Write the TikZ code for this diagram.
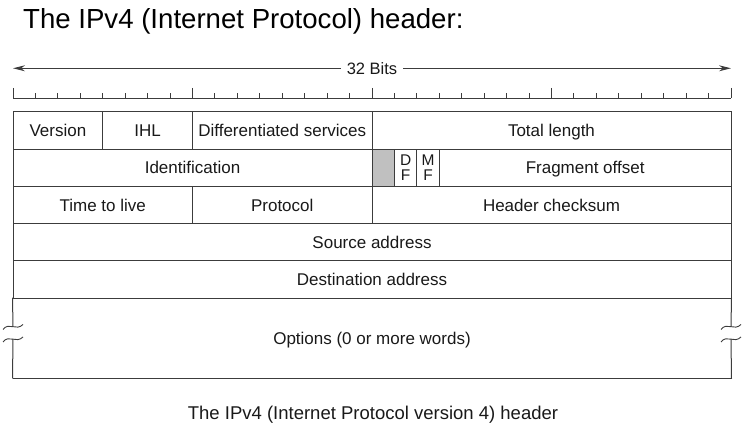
\documentclass[tikz,border=0pt]{standalone}
\usepackage{fontspec}
\setmainfont{Liberation Sans}
\usetikzlibrary{arrows.meta}
\definecolor{ln}{RGB}{60,60,60}
\definecolor{shade}{RGB}{192,192,192}
\definecolor{txt}{RGB}{25,25,25}
\newcommand{\fld}[6]{\node[field,minimum width={(#3-#2)*1pt},minimum height={(#5-#4)*1pt}] (#1) at ({(#2+#3)/2},{(#4+#5)/2}) {#6};}
\begin{document}
\begin{tikzpicture}[x=1pt,y=-1pt,
  box/.style={draw=ln, line width=1pt, inner sep=0pt, text=txt},
  field/.style={box, font=\fontsize{17}{19}\selectfont, text height=12pt, text depth=0pt},
  rule/.style={draw=ln, line width=1pt},
  flagtxt/.style={font=\fontsize{15.5}{14.5}\selectfont, align=center},
  squig/.style={draw=ln, line width=0.9pt}]
\useasboundingbox (0,0) rectangle (745,430);
% title
\node[anchor=base west, inner sep=0pt, text=black, font=\fontsize{27.6}{30}\selectfont] (title) at (23,28.5) {The IPv4 (Internet Protocol) header:};
% 32 bits arrow
\coordinate (al) at (13,68.3);
\coordinate (ar) at (731,68.3);
\draw[rule, line width=0.9pt, {Stealth[length=12pt,width=6pt]}-{Stealth[length=12pt,width=6pt]}] (al) -- (ar);
\node[fill=white, inner xsep=6pt, inner ysep=1pt, text=txt, font=\fontsize{16.5}{18}\selectfont] (bits) at (372,68.3) {32 Bits};
% ruler
\coordinate (rl) at (13,98.5);
\coordinate (rr) at (731,98.5);
\draw[rule] (rl) -- (rr);
\foreach \i in {0,...,32}{
  \pgfmathsetmacro{\xx}{13+\i*22.4375}
  \pgfmathtruncatemacro{\m}{mod(\i,8)}
  \ifnum\m=0
    \draw[rule] (\xx,88) -- (\xx,98.5);
  \else
    \draw[rule] (\xx,93.5) -- (\xx,98.5);
  \fi
}
% row 1
\fld{ver}{13}{102.75}{112}{149.25}{Version}
\fld{ihl}{102.75}{192.5}{112}{149.25}{IHL}
\fld{ds}{192.5}{372}{112}{149.25}{Differentiated services}
\fld{tl}{372}{731}{112}{149.25}{Total length}
% row 2
\fld{id}{13}{372}{149.25}{186.5}{Identification}
\node[box, fill=shade, minimum width=22.44pt, minimum height=37.25pt] (rsv) at (383.22,167.875) {};
\node[box, minimum width=22.44pt, minimum height=37.25pt, flagtxt] (df) at (405.66,167.875) {D\\F};
\node[box, minimum width=22.44pt, minimum height=37.25pt, flagtxt] (mf) at (428.09,167.875) {M\\F};
\fld{fo}{439.31}{731}{149.25}{186.5}{Fragment offset}
% row 3
\fld{ttl}{13}{192.5}{186.5}{223.75}{Time to live}
\fld{proto}{192.5}{372}{186.5}{223.75}{Protocol}
\fld{cks}{372}{731}{186.5}{223.75}{Header checksum}
% row 4,5
\fld{src}{13}{731}{223.75}{261}{Source address}
\fld{dst}{13}{731}{261}{298.25}{Destination address}
% options
\node[field, draw=none, minimum width=718pt, minimum height=79.75pt] (opt) at (372,338.125) {Options (0 or more words)};
\draw[rule] (opt.south west) -- (opt.south east);
\coordinate (lq1) at (13,326.5);
\coordinate (lq2) at (13,339);
\coordinate (rq1) at (731,326.5);
\coordinate (rq2) at (731,339);
\draw[rule] (opt.north west) -- (lq1);
\draw[rule] (lq2) -- (opt.south west);
\draw[rule] (opt.north east) -- (rq1);
\draw[rule] (rq2) -- (opt.south east);
\foreach \c in {lq1,lq2,rq1,rq2}{
  \draw[squig] ([shift={(-10,3)}]\c) .. controls ([shift={(-4,-5)}]\c) and ([shift={(3,5)}]\c) .. ([shift={(10,-2)}]\c);
}
% caption
\node[anchor=base, inner sep=0pt, text=txt, font=\fontsize{18.5}{21}\selectfont] (cap) at (373,420) {The IPv4 (Internet Protocol version 4) header};
\end{tikzpicture}
\end{document}
